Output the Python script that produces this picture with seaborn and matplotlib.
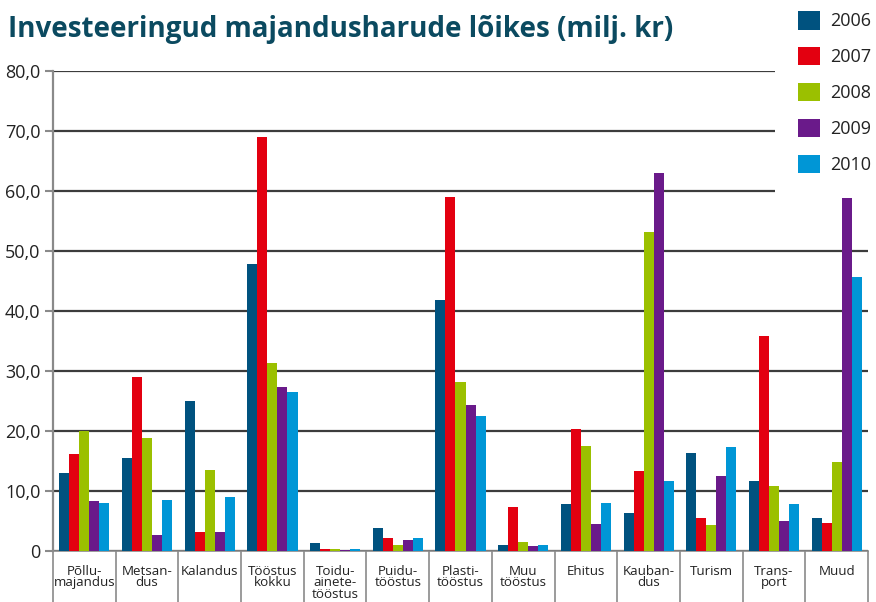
import matplotlib
matplotlib.use("Agg")
import matplotlib.pyplot as plt
import seaborn as sns
import pandas as pd
from matplotlib.patches import Patch, Rectangle
from matplotlib.ticker import FixedLocator, FuncFormatter

categories = ["Põllu-\nmajandus", "Metsan-\ndus", "Kalandus", "Tööstus\nkokku",
              "Toidu-\nainete-\ntööstus", "Puidu-\ntööstus", "Plasti-\ntööstus",
              "Muu\ntööstus", "Ehitus", "Kauban-\ndus", "Turism", "Trans-\nport", "Muud"]
years = ["2006", "2007", "2008", "2009", "2010"]
v2006 = [13.0, 15.5, 25.0, 47.8, 1.3, 3.8, 41.8, 1.0, 7.8, 6.3, 16.3, 11.7, 5.5]
v2007 = [16.2, 29.0, 3.2, 69.0, 0.4, 2.2, 59.0, 7.3, 20.3, 13.3, 5.5, 35.8, 4.7]
v2008 = [20.0, 18.8, 13.5, 31.3, 0.4, 1.0, 28.2, 1.5, 17.5, 53.2, 4.3, 10.8, 14.8]
v2009 = [8.3, 2.7, 3.2, 27.3, 0.2, 1.8, 24.3, 0.8, 4.5, 63.0, 12.5, 5.0, 58.8]
v2010 = [8.0, 8.5, 9.0, 26.5, 0.4, 2.2, 22.5, 1.0, 8.0, 11.7, 17.3, 7.8, 45.7]
colors = ["#00527f", "#e30010", "#9bc000", "#6a1a8a", "#0096d6"]

series = [v2006, v2007, v2008, v2009, v2010]
rows = []
for y, vals in zip(years, series):
    for c, v in zip(categories, vals):
        rows.append({"cat": c, "year": y, "value": v})
df = pd.DataFrame(rows)

sns.set_theme(style="white")
plt.rcParams["font.family"] = ["Open Sans", "DejaVu Sans"]

fig = plt.figure(figsize=(8.76, 6.02), dpi=100)
ax = fig.add_axes([53/876, 1-551/602, (868-53)/876, (551-71)/602])

sns.barplot(data=df, x="cat", y="value", hue="year", order=categories,
            hue_order=years, palette=colors, saturation=1, width=0.8, linewidth=0,
            ax=ax, legend=False, zorder=3)

ax.set_ylim(0, 80)
ax.set_xlim(-0.5, len(categories) - 0.5)
ax.set_yticks(range(0, 81, 10))
ax.yaxis.set_major_formatter(FuncFormatter(lambda v, p: "0" if v == 0 else f"{v:.1f}".replace(".", ",")))
ax.yaxis.grid(True, color="#3c3c3c", linewidth=1.6, zorder=0)
ax.set_axisbelow(True)
ax.set_xlabel("")
ax.set_ylabel("")

for s in ["top", "right"]:
    ax.spines[s].set_visible(False)
ax.spines["left"].set_color("#8a8a8a")
ax.spines["left"].set_linewidth(1.6)
ax.spines["bottom"].set_color("#8a8a8a")
ax.spines["bottom"].set_linewidth(1.2)

ax.tick_params(axis="y", which="major", length=6, width=1.5, color="#8a8a8a",
               labelsize=13, labelcolor="#222222", pad=3, left=True)
ax.tick_params(axis="x", which="major", length=0, labelsize=9.6,
               labelcolor="#222222", pad=10)
ax.xaxis.set_minor_locator(FixedLocator([i - 0.5 for i in range(len(categories) + 1)]))
ax.tick_params(axis="x", which="minor", length=40, width=1.2, color="#8a8a8a",
               bottom=True)
for lab in ax.get_xticklabels():
    lab.set_linespacing(0.86)
    lab.set_verticalalignment("top")

fig.text(8/876, 1-30/602, "Investeeringud majandusharude lõikes (milj. kr)",
         fontsize=20, fontweight="bold", color="#0b4a60", va="center", ha="left")

# white area behind the legend (hides grid lines there, as in the original)
fig.patches.append(Rectangle((775/876, 1-195/602), 101/876, 195/602,
                             transform=fig.transFigure, facecolor="white",
                             edgecolor="none", zorder=2))

handles = [Patch(facecolor=c, edgecolor="none") for c in colors]
leg = fig.legend(handles, years, loc="upper left", bbox_to_anchor=(798/876, 1 - 11/602),
                 frameon=False, fontsize=13, handlelength=1.2, handleheight=1.2,
                 labelspacing=0.92, handletextpad=0.6, borderpad=0, borderaxespad=0)
leg.set_zorder(5)
for t in leg.get_texts():
    t.set_color("#222222")

fig.savefig("out.png", dpi=100)
